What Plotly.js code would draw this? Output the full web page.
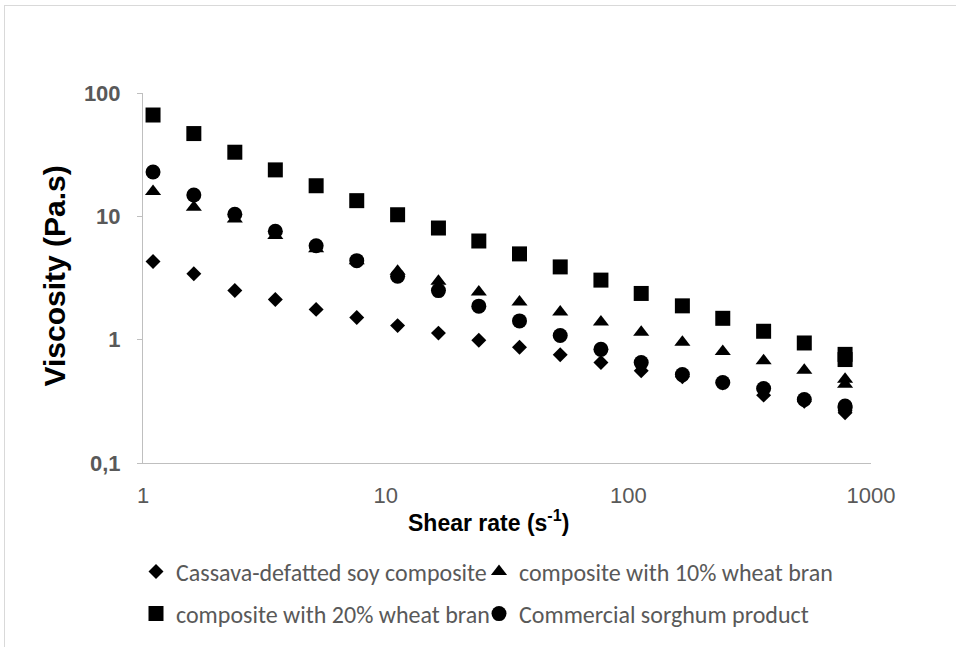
<!DOCTYPE html>
<html>
<head>
<meta charset="utf-8">
<script src="https://cdn.plot.ly/plotly-3.0.1.min.js"></script>
<style>
  html, body { margin: 0; padding: 0; background: #ffffff; overflow: hidden; }
  #frame { position: absolute; left: 4px; top: 5px; width: 1000px; height: 700px;
           border-top: 1px solid #d9d9d9; border-left: 1px solid #d9d9d9; }
  #chart { position: absolute; left: 0; top: 0; width: 956px; height: 647px; }
</style>
</head>
<body>
<div id="frame"></div>
<div id="chart"></div>
<script>
// Shear rate (1/s) of each measurement step; the last step was recorded twice
const shearRate = [1.10, 1.62, 2.39, 3.51, 5.17, 7.60, 11.2, 16.5, 24.2, 35.6, 52.4, 77.1, 113, 167, 245, 361, 531, 782, 782];

// Apparent viscosity (Pa.s) for each sample
const cassavaSoy = [4.30, 3.43, 2.50, 2.12, 1.76, 1.51, 1.30, 1.13, 0.99, 0.867, 0.756, 0.652, 0.56, 0.50, 0.445, 0.355, 0.317, 0.265, 0.255];
const wheatBran10 = [15.9, 11.85, 9.5, 7.0, 5.46, 4.37, 3.58, 2.97, 2.43, 2.02, 1.68, 1.39, 1.15, 0.955, 0.80, 0.674, 0.565, 0.478, 0.435];
const wheatBran20 = [66.3, 46.9, 33.1, 23.8, 17.7, 13.4, 10.3, 8.04, 6.31, 4.96, 3.89, 3.04, 2.37, 1.88, 1.49, 1.17, 0.94, 0.76, 0.69];
const sorghum = [22.9, 14.9, 10.4, 7.57, 5.78, 4.37, 3.27, 2.50, 1.87, 1.42, 1.08, 0.835, 0.652, 0.521, 0.449, 0.402, 0.327, 0.29, 0.28];

const seriesNames = ['Cassava-defatted soy composite', 'composite with 10% wheat bran',
                     'composite with 20% wheat bran', 'Commercial sorghum product'];

const xTickVals = [1, 10, 100, 1000];
const xTickText = ['1', '10', '100', '1000'];
const yTickVals = [0.1, 1, 10, 100];
const yTickText = ['0,1', '1', '10', '100'];

const W = 956, H = 647;
const M = { l: 143, r: 85, t: 93, b: 183 };
const plotW = W - M.l - M.r, plotH = H - M.t - M.b;
// pixel position on the page -> paper fraction
const px = x => (x - M.l) / plotW;
const py = y => (H - M.b - y) / plotH;

const sansFamily = '"Liberation Sans", Arial, sans-serif';
const legendFont = { family: 'Carlito, Lato, sans-serif', size: 24, color: '#595959' };

function series(y, name, symbol, size, legendId) {
  return {
    type: 'scatter', mode: 'markers', x: shearRate, y: y, name: name,
    legend: legendId,
    marker: { symbol: symbol, size: size, color: '#000000', line: { width: 0 } },
    hoverinfo: 'skip'
  };
}

const traces = [
  series(cassavaSoy, seriesNames[0], 'diamond', 11.5, 'legend'),
  series(wheatBran10, seriesNames[1], 'triangle-up', 14, 'legend2'),
  series(wheatBran20, seriesNames[2], 'square', 15, 'legend3'),
  series(sorghum, seriesNames[3], 'circle', 15, 'legend4')
];

function legendAt(x, y) {
  return { orientation: 'h', x: px(x), y: py(y), xanchor: 'left', yanchor: 'middle',
           xref: 'paper', yref: 'paper', bgcolor: 'rgba(0,0,0,0)', borderwidth: 0,
           font: legendFont };
}

const layout = {
  width: W, height: H,
  margin: M,
  paper_bgcolor: 'rgba(0,0,0,0)',
  plot_bgcolor: 'rgba(0,0,0,0)',
  showlegend: true,
  legend: legendAt(136, 572),
  legend2: legendAt(479, 572),
  legend3: legendAt(136, 614),
  legend4: legendAt(479, 614),
  xaxis: {
    type: 'log', range: [0, 3],
    tickvals: xTickVals, ticktext: xTickText,
    showgrid: false, zeroline: false,
    showline: true, linecolor: '#bfbfbf', linewidth: 1,
    ticks: '', ticklabelstandoff: 13,
    tickfont: { family: sansFamily, size: 22, color: '#595959' }
  },
  yaxis: {
    type: 'log', range: [-1, 2],
    tickvals: yTickVals, ticktext: yTickText,
    showgrid: false, zeroline: false,
    showline: true, linecolor: '#bfbfbf', linewidth: 1,
    ticks: 'outside', ticklen: 5, tickcolor: '#bfbfbf', ticklabelstandoff: 12,
    tickfont: { family: sansFamily, size: 22, color: '#595959', weight: 'bold' }
  },
  annotations: [
    {
      text: 'Shear rate (s<sup>-1</sup>)', xref: 'paper', yref: 'paper',
      x: px(488), y: py(522), xanchor: 'center', yanchor: 'middle', showarrow: false,
      font: { family: sansFamily, size: 23, color: '#000000', weight: 'bold' }
    },
    {
      text: 'Viscosity (Pa.s)', xref: 'paper', yref: 'paper', textangle: -90,
      x: px(55), y: py(277), xanchor: 'center', yanchor: 'middle', showarrow: false,
      font: { family: sansFamily, size: 30, color: '#000000', weight: 'bold' }
    }
  ]
};

Plotly.newPlot('chart', traces, layout, { displayModeBar: false, staticPlot: true });
</script>
</body>
</html>
